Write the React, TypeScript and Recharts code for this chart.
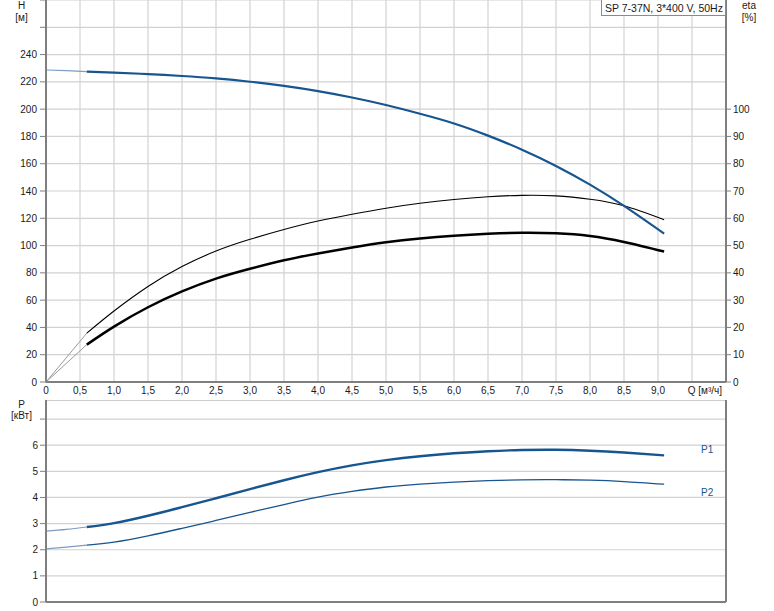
import { ComposedChart, Line, XAxis, YAxis, CartesianGrid, ReferenceLine } from 'recharts';

// flow rate points, m³/h
const qMain = [0.6, 1.0, 1.5, 2.0, 2.5, 3.0, 3.5, 4.0, 4.5, 5.0, 5.5, 6.0, 6.5, 7.0, 7.5, 8.0, 8.5, 9.09];
const qExt = [0, 0.3, 0.6];
const qEtaExt = [0, 0.6];

const head = [227.5, 226.7, 225.7, 224.3, 222.5, 220.1, 217.0, 213.2, 208.5, 203.0, 196.6, 189.5, 180.6, 170.3, 158.4, 144.7, 129.1, 108.8];
const headExt = [228.7, 228.2, 227.5];

const etaPump = [17.9, 26, 35, 42.3, 48, 52.3, 55.9, 59, 61.5, 63.7, 65.5, 66.9, 67.9, 68.4, 68.2, 67, 64.6, 59.5];
const etaPumpExt = [0, 17.9];
const etaTotal = [13.7, 20.3, 27.4, 33.2, 37.9, 41.5, 44.6, 47.1, 49.3, 51.2, 52.6, 53.6, 54.3, 54.7, 54.5, 53.5, 51.3, 47.8];
const etaTotalExt = [0, 13.7];

const p1 = [2.87, 3.02, 3.3, 3.63, 3.97, 4.32, 4.66, 4.97, 5.23, 5.43, 5.58, 5.69, 5.77, 5.815, 5.825, 5.79, 5.72, 5.61];
const p1Ext = [2.71, 2.78, 2.87];
const p2 = [2.18, 2.29, 2.53, 2.82, 3.12, 3.43, 3.73, 4.01, 4.23, 4.4, 4.51, 4.59, 4.645, 4.675, 4.68, 4.66, 4.61, 4.51];
const p2Ext = [2.03, 2.1, 2.18];

const qTicks = [0, 0.5, 1, 1.5, 2, 2.5, 3, 3.5, 4, 4.5, 5, 5.5, 6, 6.5, 7, 7.5, 8, 8.5, 9, 9.5, 10];
const hTicks = [0, 20, 40, 60, 80, 100, 120, 140, 160, 180, 200, 220, 240, 260, 280];
const etaTicks = [0, 10, 20, 30, 40, 50, 60, 70, 80, 90, 100];
const pTicks = [0, 1, 2, 3, 4, 5, 6, 7];
const hMax = 280;
const etaMax = 140;
const pMax = 7.73;

const build = (qs: number[], vs: number[]) => qs.map((q, i) => ({ q, v: vs[i] }));

const FONT = '"Liberation Sans", Arial, sans-serif';
const BLUE = '#175590';
const BLUE_EXT = '#7d9cc0';
const GRID = '#d2d2d2';
const AXIS = '#7f7f7f';
const TXT = '#1a1a1a';

const qTick = (props: any) => {
     const { x, y, payload } = props;
     const v = payload.value;
     if (v === 9.5) return <g />;
     if (v === 10) {
          return (
               <text x={x - 4} y={y} dy="0.71em" textAnchor="end" fontSize={10} fill={TXT} fontFamily={FONT}>
                    Q [м³/ч]
               </text>
          );
     }
     const label = v === 0 ? '0' : v.toFixed(1).replace('.', ',');
     return (
          <text x={x} y={y} dy="0.71em" textAnchor="middle" fontSize={10} fill={TXT} fontFamily={FONT}>
               {label}
          </text>
     );
};

const leftTick = (limit: number) => (props: any) => {
     const { x, y, payload } = props;
     if (payload.value > limit) return <g />;
     return (
          <text x={x} y={y} dy={3.5} textAnchor="end" fontSize={10} fill={TXT} fontFamily={FONT}>
               {payload.value}
          </text>
     );
};

const rightTick = (props: any) => {
     const { x, y, payload } = props;
     return (
          <text x={x} y={y} dy={3.5} textAnchor="start" fontSize={10} fill={TXT} fontFamily={FONT}>
               {payload.value}
          </text>
     );
};

const axisLine = { stroke: AXIS, strokeWidth: 2 };
const tickLine = { stroke: AXIS, strokeWidth: 1 };

export default function App() {
     return (
          <div style={{ position: 'absolute', left: 0, top: 0, width: 774, height: 611, background: '#fff', fontFamily: FONT }}>
               {/* Q-H and efficiency */}
               <div style={{ position: 'absolute', left: 0, top: 0 }}>
                    <ComposedChart width={774} height={400} margin={{ top: 0, right: 0, bottom: 0, left: 0 }}>
                         <CartesianGrid yAxisId="h" stroke={GRID} strokeWidth={1.2} />
                         <XAxis
                              dataKey="q"
                              type="number"
                              domain={[0, 10]}
                              ticks={qTicks}
                              interval={0}
                              height={18}
                              tickLine={false}
                              tickSize={4}
                              tickMargin={1}
                              tick={qTick}
                              axisLine={axisLine}
                              allowDataOverflow
                         />
                         <YAxis
                              yAxisId="h"
                              domain={[0, hMax]}
                              ticks={hTicks}
                              interval={0}
                              width={46}
                              tickSize={6}
                              tickMargin={3}
                              tick={leftTick(240)}
                              tickLine={tickLine}
                              axisLine={axisLine}
                              allowDataOverflow
                         />
                         <YAxis
                              yAxisId="eta"
                              orientation="right"
                              domain={[0, etaMax]}
                              ticks={etaTicks}
                              interval={0}
                              width={48}
                              tickSize={5}
                              tickMargin={2}
                              tick={rightTick}
                              tickLine={tickLine}
                              axisLine={axisLine}
                              allowDataOverflow
                         />
                         <Line yAxisId="eta" data={build(qEtaExt, etaPumpExt)} dataKey="v" type="linear" stroke="#9a9a9a" strokeWidth={1} dot={false} activeDot={false} isAnimationActive={false} />
                         <Line yAxisId="eta" data={build(qEtaExt, etaTotalExt)} dataKey="v" type="linear" stroke="#9a9a9a" strokeWidth={1} dot={false} activeDot={false} isAnimationActive={false} />
                         <Line yAxisId="eta" data={build(qMain, etaPump)} dataKey="v" type="natural" stroke="#000" strokeWidth={1.1} dot={false} activeDot={false} isAnimationActive={false} />
                         <Line yAxisId="eta" data={build(qMain, etaTotal)} dataKey="v" type="natural" stroke="#000" strokeWidth={2.5} dot={false} activeDot={false} isAnimationActive={false} />
                         <Line yAxisId="h" data={build(qExt, headExt)} dataKey="v" type="natural" stroke={BLUE_EXT} strokeWidth={1.2} dot={false} activeDot={false} isAnimationActive={false} />
                         <Line yAxisId="h" data={build(qMain, head)} dataKey="v" type="natural" stroke={BLUE} strokeWidth={2.2} dot={false} activeDot={false} isAnimationActive={false} />
                    </ComposedChart>
               </div>

               {/* power */}
               <div style={{ position: 'absolute', left: 0, top: 400 }}>
                    <ComposedChart width={774} height={211} margin={{ top: 0, right: 0, bottom: 0, left: 0 }}>
                         <CartesianGrid yAxisId="p" stroke={GRID} strokeWidth={1.2} />
                         <XAxis
                              dataKey="q"
                              type="number"
                              domain={[0, 10]}
                              ticks={qTicks}
                              interval={0}
                              height={9}
                              tick={false}
                              tickLine={false}
                              axisLine={axisLine}
                              allowDataOverflow
                         />
                         <YAxis
                              yAxisId="p"
                              domain={[0, pMax]}
                              ticks={pTicks}
                              interval={0}
                              width={46}
                              tickSize={6}
                              tickMargin={2}
                              tick={leftTick(6)}
                              tickLine={tickLine}
                              axisLine={axisLine}
                              allowDataOverflow
                         />
                         <YAxis yAxisId="r" orientation="right" domain={[0, pMax]} width={48} tick={false} tickLine={false} axisLine={axisLine} />
                         <ReferenceLine yAxisId="p" y={pMax} stroke="#c4c4c4" strokeWidth={1.5} />
                         <Line yAxisId="p" data={build(qExt, p1Ext)} dataKey="v" type="natural" stroke={BLUE_EXT} strokeWidth={1.2} dot={false} activeDot={false} isAnimationActive={false} />
                         <Line yAxisId="p" data={build(qExt, p2Ext)} dataKey="v" type="natural" stroke={BLUE_EXT} strokeWidth={1.2} dot={false} activeDot={false} isAnimationActive={false} />
                         <Line yAxisId="p" data={build(qMain, p1)} dataKey="v" type="natural" stroke={BLUE} strokeWidth={2.4} dot={false} activeDot={false} isAnimationActive={false} />
                         <Line yAxisId="p" data={build(qMain, p2)} dataKey="v" type="natural" stroke={BLUE} strokeWidth={1.3} dot={false} activeDot={false} isAnimationActive={false} />
                    </ComposedChart>
               </div>

               {/* axis titles, curve labels, pump title */}
               <svg width={774} height={611} style={{ position: 'absolute', left: 0, top: 0, pointerEvents: 'none' }}>
                    <g fontFamily={FONT} fontSize={10} fill={TXT}>
                         <text x={21.5} y={9} textAnchor="middle">H</text>
                         <text x={21.5} y={21} textAnchor="middle">[м]</text>
                         <text x={749} y={9} textAnchor="middle">eta</text>
                         <text x={749} y={21} textAnchor="middle">[%]</text>
                         <text x={21.5} y={408} textAnchor="middle">P</text>
                         <text x={21.5} y={419} textAnchor="middle">[кВт]</text>
                    </g>
                    <g fontFamily={FONT} fontSize={10} fill={BLUE}>
                         <text x={701} y={453}>P1</text>
                         <text x={701} y={496}>P2</text>
                    </g>
                    <rect x={601.5} y={-1} width={124} height={16.5} fill="#fff" stroke="#8a8a8a" strokeWidth={1} />
                    <text x={605} y={11.5} fontFamily={FONT} fontSize={10.5} fill={TXT}>
                         SP 7-37N, 3*400 V, 50Hz
                    </text>
               </svg>
          </div>
     );
}
